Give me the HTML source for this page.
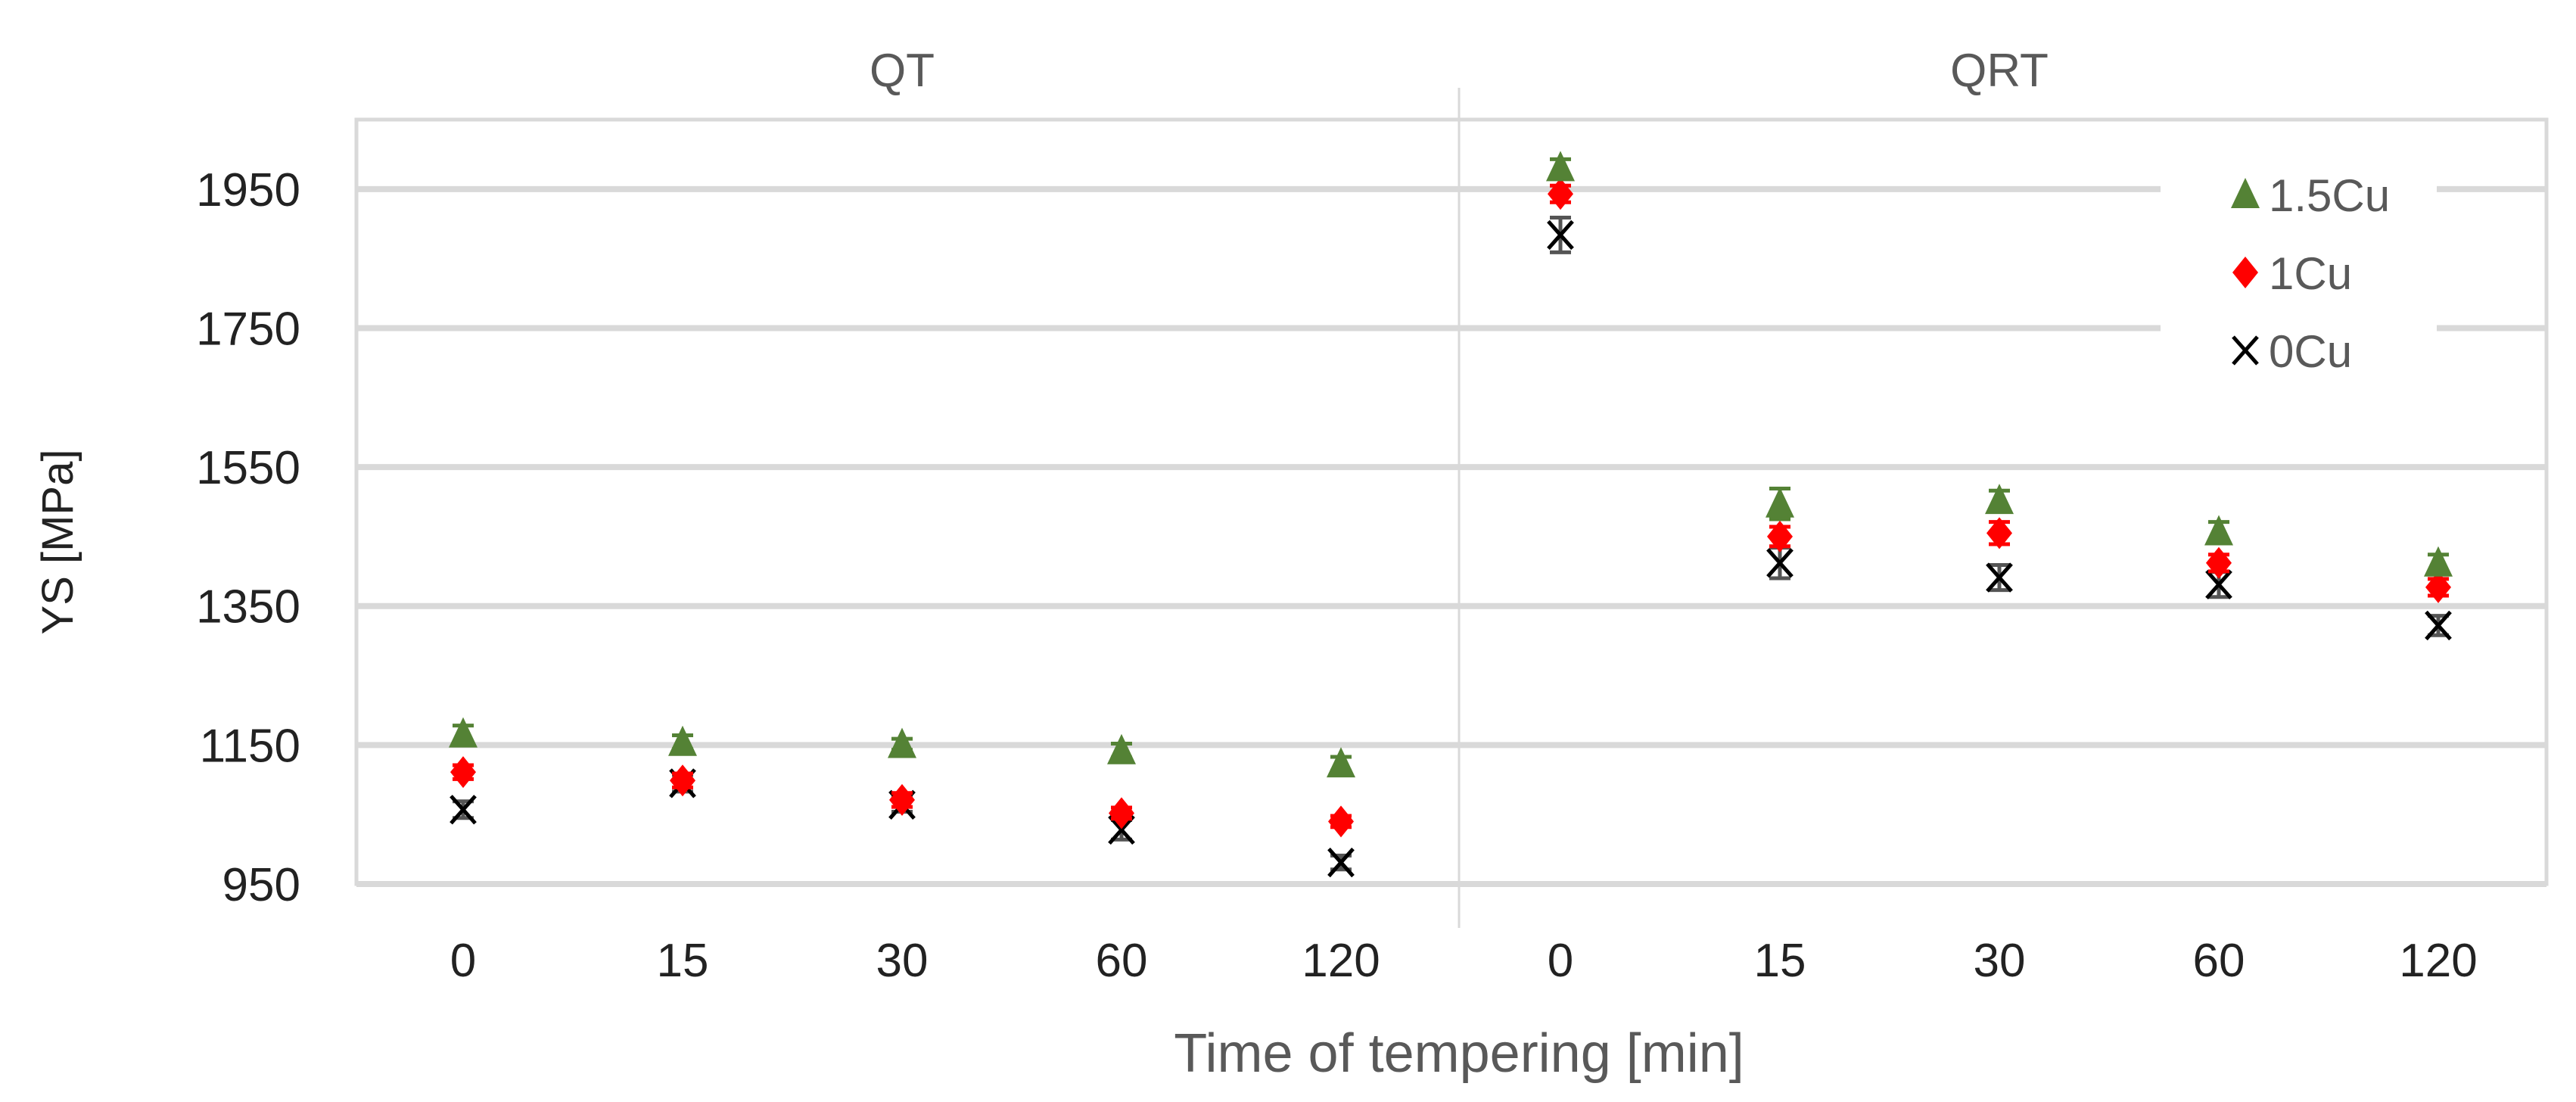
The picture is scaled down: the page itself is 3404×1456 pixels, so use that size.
<!DOCTYPE html>
<html><head><meta charset="utf-8"><style>
html,body{margin:0;padding:0;background:#fff;}
svg{display:block;font-family:"Liberation Sans",sans-serif;}
</style></head><body>
<svg id="chart" width="3404" height="1456" viewBox="0 0 3404 1456">
<g id="grid"></g>
<g id="ticks"></g>
<g id="marks"></g>
<g id="legend"></g>
</svg>
<script>
const categories = ["0","15","30","60","120","0","15","30","60","120"];
const groups = ["QT","QRT"];
const yTicks = [950,1150,1350,1550,1750,1950];
const s15Cu = [1166,1154,1151,1142,1123,1981,1497,1502,1457,1412];
const s1Cu  = [1111,1099,1071,1052,1040,1943,1450,1455,1412,1377];
const s0Cu  = [1057,1095,1064,1028,981,1884,1412,1391,1381,1322];
const e15Cu = [12,10,8,10,10,12,22,14,14,12];
const e1Cu  = [10,10,10,8,8,12,14,16,12,12];
const e0Cu  = [12,12,10,14,10,25,22,18,18,14];

const NS="http://www.w3.org/2000/svg";
const L=471,R=3365,T=158,B=1168;
const yMin=950,yMax=2050;
function y(v){return B-(v-yMin)/(yMax-yMin)*(B-T);}
function x(i){return 612+i*290;}
function mk(tag,attrs,parent){const e=document.createElementNS(NS,tag);for(const k in attrs)e.setAttribute(k,attrs[k]);parent.appendChild(e);return e;}
const grid=document.getElementById('grid'),ticks=document.getElementById('ticks'),marks=document.getElementById('marks'),leg=document.getElementById('legend');

let pb=mk('rect',{x:L,y:T,width:R-L,height:B-T,fill:'none',stroke:'#d9d9d9','stroke-width':5},grid);


yTicks.forEach(v=>{
  let g=mk('line',{x1:L,x2:R,y1:y(v),y2:y(v),stroke:'#d9d9d9','stroke-width':8},grid);
  
  
  let t=mk('text',{x:397,y:y(v)+22,'text-anchor':'end','font-size':62,fill:'#222'},ticks);
  t.textContent=v;
  
  
});
let dv=mk('line',{x1:1928,x2:1928,y1:116,y2:1226,stroke:'#d9d9d9','stroke-width':3},grid);


categories.forEach((c,i)=>{
  let t=mk('text',{x:x(i),y:1290,'text-anchor':'middle','font-size':62,fill:'#222'},ticks);
  t.textContent=c;
  
  
});
groups.forEach((g,i)=>{
  let t=mk('text',{x:(x(i*5)+x(i*5+4))/2,y:114,'text-anchor':'middle','font-size':62,fill:'#595959'},ticks);
  t.textContent=g;
  
  
});
let xt=mk('text',{x:1928,y:1416,'text-anchor':'middle','font-size':72,fill:'#595959'},ticks);
xt.textContent='Time of tempering [min]';


let yt=mk('text',{x:0,y:0,'text-anchor':'middle','font-size':58,fill:'#222',transform:'translate(96,716) rotate(-90)'},ticks);
yt.textContent='YS [MPa]';



function errbar(cx,v,e,col){
  let g=mk('g',{stroke:col,'stroke-width':5},marks);
  
  
  mk('line',{x1:cx,x2:cx,y1:y(v+e),y2:y(v-e)},g);
  mk('line',{x1:cx-14,x2:cx+14,y1:y(v+e),y2:y(v+e)},g);
  mk('line',{x1:cx-14,x2:cx+14,y1:y(v-e),y2:y(v-e)},g);
}
function tri(cx,cy,p,name){let e=mk('polygon',{points:`${cx},${cy-22} ${cx-19},${cy+18} ${cx+19},${cy+18}`,fill:'#548235'},p);}
function dia(cx,cy,p,name){let e=mk('polygon',{points:`${cx},${cy-21} ${cx+17},${cy} ${cx},${cy+21} ${cx-17},${cy}`,fill:'#ff0000'},p);}
function cross(cx,cy,p,name){let g=mk('g',{stroke:'#000','stroke-width':5},p);mk('line',{x1:cx-16,y1:cy-18,x2:cx+16,y2:cy+18},g);mk('line',{x1:cx-16,y1:cy+18,x2:cx+16,y2:cy-18},g);}

s0Cu.forEach((v,i)=>{errbar(x(i),v,e0Cu[i],'#555');cross(x(i),y(v),marks,'point-0cu-'+i);});
s1Cu.forEach((v,i)=>{errbar(x(i),v,e1Cu[i],'#ff0000');dia(x(i),y(v),marks,'point-1cu-'+i);});
s15Cu.forEach((v,i)=>{errbar(x(i),v,e15Cu[i],'#548235');tri(x(i),y(v),marks,'point-1-5cu-'+i);});

let lb=mk('rect',{x:2855,y:215,width:365,height:290,fill:'#fff'},leg);


const legItems=[['1.5Cu',tri,257],['1Cu',dia,360],['0Cu',cross,463]];
legItems.forEach(([lab,fn,ly])=>{
  let g=mk('g',{},leg);
  
  
  fn(2967,ly,g,'legend-marker');
  let t=mk('text',{x:2998,y:ly+22,'font-size':60,fill:'#595959'},g);
  t.textContent=lab;
});
</script>
</body></html>
